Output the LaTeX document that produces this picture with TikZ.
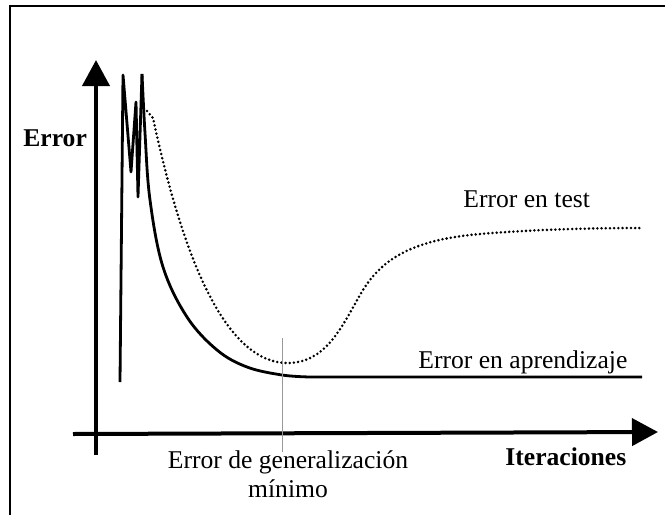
\documentclass[tikz,border=0pt]{standalone}
\usepackage{fontspec}
\setmainfont{Liberation Serif}
\usetikzlibrary{arrows.meta, positioning, calc}

\begin{document}
\begin{tikzpicture}[x=0.5pt, y=-0.5pt,
  axis/.style={line width=2pt, -{Triangle[length=13pt, width=13.5pt]}},
  train/.style={line width=1.4pt, line join=round},
  test/.style={line width=1.4pt, dash pattern=on 0pt off 2.1pt, line cap=round},
  lbl/.style={font=\fontsize{12.8}{15}\selectfont, inner sep=0pt}]
\useasboundingbox (0,0) rectangle (665,515);

% Frame
\draw[line width=0.75pt] (10,515) -- (10,6) -- (665,6);

% Axes
\coordinate (ybot) at (96,455);
\coordinate (ytop) at (96,60);
\coordinate (xbeg) at (73,434);
\coordinate (xend) at (658,432);
\draw[axis] (ybot) -- (ytop);
\draw[axis] (xbeg) -- (xend);

% Training error
\draw[train] (120,382) -- (123,75) -- (131,172) -- (136,102) -- (138,197) -- (142,74);
\draw[train] plot[smooth, tension=0.6] coordinates {(142,74) (145,133) (150,200) (163,267) (187,317) (217,350) (247,367) (282,375) (310,377)} -- (642,377);

% Test error
\coordinate (tmin) at (287,363);
\draw[test] (147,111) -- (153,118)
  .. controls (175,220) and (215,362) .. (tmin)
  .. controls (325,363) and (340,330) .. (360,295)
  .. controls (380,260) and (410,240) .. (480,234)
  .. controls (540,229) and (600,228) .. (642,228);

% Minimum
\draw[gray!80, line width=0.4pt] (282,338) -- (282,452);

% Labels
\node[lbl, font=\fontsize{12.8}{15}\selectfont\bfseries, anchor=base west] (err) at (23,146) {Error};
\node[lbl, anchor=base west] (test) at (463,207) {Error en test};
\node[lbl, anchor=base west] (train) at (418,368) {Error en aprendizaje};
\node[lbl, font=\fontsize{12.8}{15}\selectfont\bfseries, anchor=base west] (iter) at (505,465) {Iteraciones};
\node[lbl, anchor=base] (gen) at (288,468) {Error de generalización};
\node[lbl, anchor=base] (min) at (288,497) {mínimo};
\end{tikzpicture}
\end{document}
